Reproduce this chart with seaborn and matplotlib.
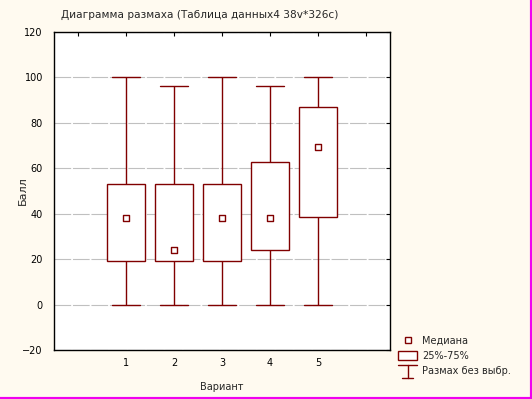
import pandas as pd
import seaborn as sns
import matplotlib.pyplot as plt
from matplotlib.lines import Line2D
from matplotlib.patches import Patch
from matplotlib.legend_handler import HandlerBase

# five-number summary per variant (min, Q1, median, Q3, max)
variants = [1, 2, 3, 4, 5]
mins = [0, 0, 0, 0, 0]
q1 = [19.2, 19.2, 19.2, 24.0, 38.5]
medians = [38.0, 24.0, 38.0, 38.0, 69.5]
q3 = [53.0, 53.0, 53.0, 62.6, 86.7]
maxs = [100, 96, 100, 96, 100]

title = "Диаграмма размаха (Таблица данных4 38v*326c)"
x_label = "Вариант"
y_label = "Балл"
legend_labels = ["Медиана", "25%-75%", "Размах без выбр."]

dark_red = "#800000"
bg = "#FFFAF0"


class WhiskerHandler(HandlerBase):
    """Legend symbol for the min-max range: wide top bar, stem, short base."""
    def create_artists(self, legend, orig_handle, xd, yd, w, h, fontsize, trans):
        x0, x1 = -xd, -xd + w
        xc = (x0 + x1) / 2
        top = -yd + h * 1.2
        bot = -yd - h * 0.4
        kw = dict(color=dark_red, linewidth=1, transform=trans)
        return [
            Line2D([x0, x1], [top, top], **kw),
            Line2D([xc, xc], [top, bot], **kw),
            Line2D([xc - w * 0.28, xc + w * 0.28], [bot, bot], **kw),
        ]


def main():
    rows = []
    for v, a, b, c, d, e in zip(variants, mins, q1, medians, q3, maxs):
        for val in (a, b, c, d, e):
            rows.append({"variant": v, "score": val})
    df = pd.DataFrame(rows)

    sns.set_style("white")
    plt.rcParams["font.family"] = ["DejaVu Sans"]
    plt.rcParams["lines.scale_dashes"] = False

    fig = plt.figure(figsize=(5.32, 3.99), dpi=100, facecolor=bg)
    ax = fig.add_axes([0.1015, 0.1228, 0.6316, 0.7978])
    ax.set_facecolor("white")

    sns.boxplot(data=df, x="variant", y="score", native_scale=True, width=0.81,
                color="white", linecolor=dark_red, linewidth=1, whis=(0, 100),
                fliersize=0, medianprops={"linewidth": 0}, capwidths=0.57,
                ax=ax)
    sns.scatterplot(x=variants, y=medians, marker="s", s=22, color="white",
                    edgecolor=dark_red, linewidth=1, zorder=5, legend=False,
                    ax=ax)

    ax.set_xlim(-0.5, 6.5)
    ax.set_ylim(-20, 120)
    ax.set_xticks(range(0, 7))
    ax.set_xticklabels([""] + [str(v) for v in variants] + [""])
    ax.set_yticks(range(-20, 121, 20))
    ax.yaxis.grid(True, color="#C0C0C0", linestyle=(0, (12, 1.3)), linewidth=0.8)
    ax.xaxis.grid(False)
    ax.set_axisbelow(True)
    ax.tick_params(direction="in", top=True, right=True, length=3, width=0.8,
                   labelsize=7, colors="black")
    ax.tick_params(axis="x", pad=6)
    ax.tick_params(axis="y", pad=8)
    for s in ax.spines.values():
        s.set_color("black")
        s.set_linewidth(1)

    ax.set_xlabel(x_label, fontsize=7, labelpad=10)
    ax.set_ylabel(y_label, fontsize=8)
    ax.yaxis.set_label_coords(-0.077, 0.5)
    fig.text(61 / 532, 1 - 15 / 399, title, fontsize=7.6, ha="left", va="center")

    handles = [
        Line2D([], [], linestyle="none", marker="s", markersize=5,
               markerfacecolor="white", markeredgecolor=dark_red, markeredgewidth=1),
        Patch(facecolor="white", edgecolor=dark_red, linewidth=1),
        "whisker",
    ]
    fig.legend(handles, legend_labels, loc="upper left",
               bbox_to_anchor=(398 / 532, 1 - 336 / 399), frameon=False,
               fontsize=7, handlelength=2.0, handleheight=0.95,
               handletextpad=0.5, labelspacing=0.5, borderpad=0, borderaxespad=0,
               handler_map={str: WhiskerHandler()})

    # pink frame on the right and bottom edges
    fig.add_artist(Line2D([1, 1], [0, 1], transform=fig.transFigure,
                          color="#F000F0", linewidth=3))
    fig.add_artist(Line2D([0, 1], [0, 0], transform=fig.transFigure,
                          color="#F000F0", linewidth=3))

    fig.savefig("out.png", dpi=100, facecolor=bg)
    plt.close(fig)


if __name__ == "__main__":
    main()
